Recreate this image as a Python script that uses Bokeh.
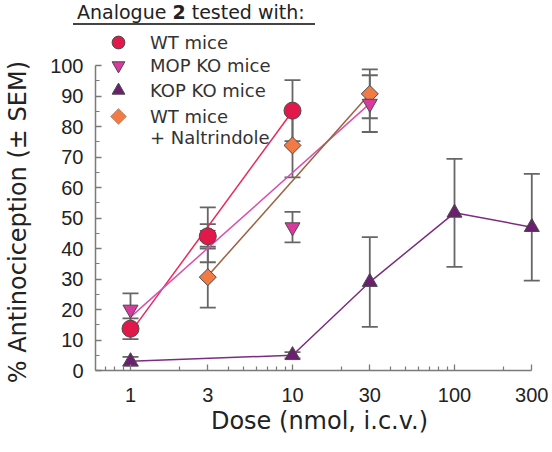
import math
from bokeh.plotting import figure
from bokeh.models import (ColumnDataSource, Whisker, TeeHead, FixedTicker, Legend, LegendItem,
                          Range1d, Div, PolyAnnotation)
from bokeh.layouts import column, row
from bokeh.embed import file_html
from bokeh.resources import INLINE

# ---------------- data ----------------
wt_dose = [1, 3, 10]
wt_val = [13.7, 44.0, 85.2]
wt_err = [3.4, 4.0, 10.0]

mop_dose = [1, 3, 10, 30]
mop_val = [20.0, 44.5, 47.0, 87.5]
mop_err = [5.3, 9.0, 5.0, 9.3]

kop_dose = [1, 10, 30, 100, 300]
kop_val = [3.0, 5.0, 29.0, 51.7, 47.0]
kop_err = [1.5, 1.0, 14.7, 17.7, 17.5]

nal_dose = [3, 10, 30]
nal_val = [30.6, 73.8, 90.7]
nal_err = [10.0, 10.5, 8.0]

# fitted regression lines
wt_fit_x, wt_fit_y = [1, 10], [12.5, 85.0]
mop_fit_x, mop_fit_y = [1, 30], [17.5, 87.5]
nal_fit_x, nal_fit_y = [3, 30], [31.0, 90.7]

x_ticks = [1, 3, 10, 30, 100, 300]
x_minor = [0.7, 0.8, 0.9, 2, 4, 5, 6, 7, 8, 9, 20, 40, 50, 60, 70, 80, 90, 200]
y_ticks = list(range(0, 101, 10))
y_minor = list(range(5, 100, 10))

legend_labels = ["WT mice", "MOP KO mice", "KOP KO mice", "WT mice", "+ Naltrindole"]
y_title = "% Antinociception (± SEM)"
x_title = "Dose (nmol, i.c.v.)"

# ---------------- styles ----------------
C_WT, C_WT_L = "#e2184b", "#e8285a"
C_MOP, C_MOP_L = "#d83a9f", "#d94fb0"
C_KOP, C_KOP_L = "#6a1f6f", "#7b2d80"
C_NAL, C_NAL_L = "#f27a45", "#9b6040"
EDGE = "#4a4a4a"
ERR = "#666666"
AX = "#7a7a7a"
TXT = "#222222"
FONT = "DejaVu Sans"

YT_W = 36          # width of the column holding the y title
DIV_H = 28         # height of the header
FRAME_L, FRAME_R, FRAME_T, FRAME_B = 95, 543, 30, 370   # page pixels
W, H = 550 - YT_W, 422

x0 = 10 ** ((FRAME_L - 130) / 162.0)
x1 = 10 ** ((FRAME_R - 130) / 162.0)
y1 = (FRAME_B - FRAME_T) / 3.05

ytitle = Div(
    text=('<div style="width:%dpx;height:445px;display:flex;align-items:center;'
          'justify-content:center;"><span style="writing-mode:vertical-rl;'
          'text-orientation:sideways;transform:rotate(180deg);'
          'font-family:\'DejaVu Sans\';font-size:24px;'
          'color:#222;white-space:nowrap;">%s</span></div>') % (YT_W, y_title),
    width=YT_W, height=DIV_H + H, margin=0)

header = Div(
    text=('<div style="margin-left:%dpx;width:242px;height:25px;box-sizing:border-box;'
          'padding:1px 0 0 4px;border-bottom:2px solid #444;font-family:\'DejaVu Sans\';'
          'font-size:19px;line-height:22px;color:#222;white-space:nowrap;">'
          'Analogue <b>2</b> tested with:</div>') % (73 - YT_W),
    width=W, height=DIV_H, margin=0)

p = figure(width=W, height=H, x_axis_type="log", output_backend="svg",
           toolbar_location=None, x_range=Range1d(x0, x1), y_range=Range1d(0, y1),
           min_border_left=FRAME_L - YT_W, min_border_right=YT_W + W - FRAME_R,
           min_border_top=FRAME_T - DIV_H, min_border_bottom=DIV_H + H - FRAME_B, margin=0)
p.outline_line_color = None
p.xgrid.visible = False
p.ygrid.visible = False

for ax in (p.xaxis[0], p.yaxis[0]):
    ax.axis_line_color = AX
    ax.axis_line_width = 1.5
    ax.major_tick_line_color = AX
    ax.minor_tick_line_color = AX
    ax.major_tick_line_width = 1.3
    ax.minor_tick_line_width = 1.2
    ax.major_tick_out = 0
    ax.minor_tick_out = 0
    ax.major_label_text_color = TXT
    ax.major_label_text_font = "Liberation Sans"
    ax.major_label_text_font_size = "20px"

p.xaxis.ticker = FixedTicker(ticks=x_ticks, minor_ticks=x_minor)
p.xaxis.bounds = (x0, 300)
p.xaxis.major_tick_in = 6
p.xaxis.minor_tick_in = 4
p.xaxis.major_label_overrides = {t: str(t) for t in x_ticks}
p.xaxis.major_label_standoff = 17
p.xaxis.axis_label = x_title
p.xaxis.axis_label_text_font = FONT
p.xaxis.axis_label_text_font_size = "24px"
p.xaxis.axis_label_text_font_style = "normal"
p.xaxis.axis_label_text_color = TXT
p.xaxis.axis_label_standoff = 2

p.yaxis.ticker = FixedTicker(ticks=y_ticks, minor_ticks=y_minor)
p.yaxis.bounds = (0, 100)
p.yaxis.major_tick_in = 6
p.yaxis.minor_tick_in = 4
p.yaxis.major_label_standoff = 12


def err_bars(xs, ys, es):
    src = ColumnDataSource(dict(x=xs, up=[y + e for y, e in zip(ys, es)],
                                lo=[y - e for y, e in zip(ys, es)]))
    w = Whisker(source=src, base="x", upper="up", lower="lo", dimension="height",
                line_color=ERR, line_width=1.8, level="underlay",
                upper_head=TeeHead(size=16, line_color=ERR, line_width=1.8),
                lower_head=TeeHead(size=16, line_color=ERR, line_width=1.8))
    p.add_layout(w)


err_bars(wt_dose, wt_val, wt_err)
err_bars(mop_dose, mop_val, mop_err)
err_bars(kop_dose, kop_val, kop_err)
err_bars(nal_dose, nal_val, nal_err)

p.line(wt_fit_x, wt_fit_y, line_color=C_WT_L, line_width=1.5)
p.line(mop_fit_x, mop_fit_y, line_color=C_MOP_L, line_width=1.5)
p.line(nal_fit_x, nal_fit_y, line_color=C_NAL_L, line_width=1.5)
p.line(kop_dose, kop_val, line_color=C_KOP_L, line_width=1.5)

r_nal = p.scatter(nal_dose, nal_val, marker="square", angle=math.pi / 4, size=12,
                  fill_color=C_NAL, line_color=EDGE, line_width=1)
r_kop = p.scatter(kop_dose, kop_val, marker="triangle", size=15,
                  fill_color=C_KOP, line_color=EDGE, line_width=1)
r_mop = p.scatter(mop_dose, mop_val, marker="inverted_triangle", size=15,
                  fill_color=C_MOP, line_color=EDGE, line_width=1)
r_wt = p.scatter(wt_dose, wt_val, marker="circle", size=17,
                 fill_color=C_WT, line_color=EDGE, line_width=1)
r_blank = p.scatter([], [], marker="circle", size=1, fill_alpha=0, line_alpha=0)

# legend: one small legend per row so rows can be placed closely
row_centres = [42, 65, 90, 116, 137.5]
GX = 102  # left of the legend glyph box (page px)
for lab, rend, cy in zip(legend_labels, [r_wt, r_mop, r_kop, r_blank, r_blank], row_centres):
    lg = Legend(items=[LegendItem(label=lab, renderers=[rend])],
                location=(GX - FRAME_L, FRAME_B - cy - 16), margin=0, padding=0,
                glyph_width=32, glyph_height=32, label_standoff=16, label_height=20,
                label_text_font=FONT, label_text_font_size="18px", label_text_color="#333333",
                background_fill_alpha=0, border_line_alpha=0)
    p.add_layout(lg)

# diamond key for the Naltrindole row (legend keys cannot be rotated)
kx, ky, kr = GX + 16 - FRAME_L, FRAME_B - row_centres[3], 8
p.add_layout(PolyAnnotation(xs=[kx, kx + kr, kx, kx - kr], ys=[ky + kr, ky, ky - kr, ky],
                            xs_units="screen", ys_units="screen",
                            fill_color=C_NAL, fill_alpha=1, line_color=EDGE, line_width=1))

layout = row(ytitle, column(header, p, spacing=0), spacing=0)
open("out.html", "w").write(file_html(layout, INLINE))
